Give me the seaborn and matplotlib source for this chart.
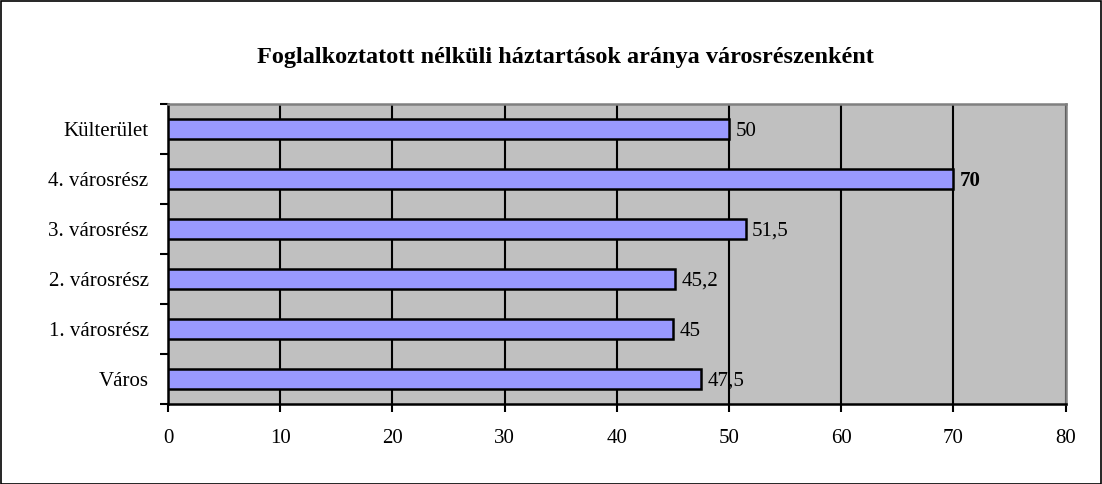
import numpy as np
import pandas as pd
import matplotlib
matplotlib.use("Agg")
import matplotlib.pyplot as plt
import seaborn as sns

# data, top to bottom as drawn
categories = ["Külterület", "4. városrész", "3. városrész", "2. városrész", "1. városrész", "Város"]
values = [50, 70, 51.5, 45.2, 45, 47.5]
value_labels = ["50", "70", "51,5", "45,2", "45", "47,5"]
bold_label = "70"
title = "Foglalkoztatott nélküli háztartások aránya városrészenként"

df = pd.DataFrame({"cat": categories, "val": values})

sns.set_theme(style="white")
plt.rcParams["font.family"] = ["Liberation Serif", "DejaVu Serif"]
plt.rcParams["text.color"] = "black"
plt.rcParams["xtick.color"] = "black"
plt.rcParams["ytick.color"] = "black"

fig = plt.figure(figsize=(11.02, 4.84), dpi=100)
ax = fig.add_axes([0.1525, 0.165, 0.8145, 0.62])

sns.barplot(data=df, y="cat", x="val", orient="h", color="#9999FF",
            saturation=1, width=0.4, edgecolor="black", linewidth=1.8, ax=ax, zorder=3)

ax.set_facecolor("#C0C0C0")
ax.set_xlim(0, 80)
ax.set_ylim(len(categories) - 0.5, -0.5)
ax.set_xticks(np.arange(0, 81, 10))
ax.grid(axis="x", color="black", linewidth=1.5, zorder=0)
ax.grid(axis="y", visible=False)
ax.set_axisbelow(True)

# category labels in centre, tick marks on band boundaries
ax.set_yticks(range(len(categories)))
ax.set_yticklabels(categories)
ax.set_yticks(np.arange(-0.5, len(categories), 1), minor=True)
ax.tick_params(axis="y", which="major", length=0, pad=14, labelsize=15)
ax.tick_params(axis="y", which="minor", length=6, width=1.5, color="black", direction="out", left=True)
ax.tick_params(axis="x", length=6, width=1.5, color="black", direction="out", bottom=True, labelsize=15, pad=12)
ax.set_xlabel("")
ax.set_ylabel("")

for s in ["left", "bottom"]:
    ax.spines[s].set_color("black")
    ax.spines[s].set_linewidth(1.8)
for s in ["top", "right"]:
    ax.spines[s].set_color("#808080")
    ax.spines[s].set_linewidth(1.8)

for i, (v, lab) in enumerate(zip(values, value_labels)):
    ax.annotate(lab, (v, i), xytext=(4.5, -1.5), textcoords="offset points",
                va="center", ha="left", fontsize=15,
                fontweight="bold" if lab == bold_label else "normal")

fig.text(0.513, 0.882, title, ha="center", va="center", fontsize=17.5, fontweight="bold")

fig.patches.append(plt.Rectangle((0.001, 0.001), 0.998, 0.997, transform=fig.transFigure,
                                 fill=False, edgecolor="black", linewidth=1.2))

fig.savefig("out.png", dpi=100, facecolor="white")
